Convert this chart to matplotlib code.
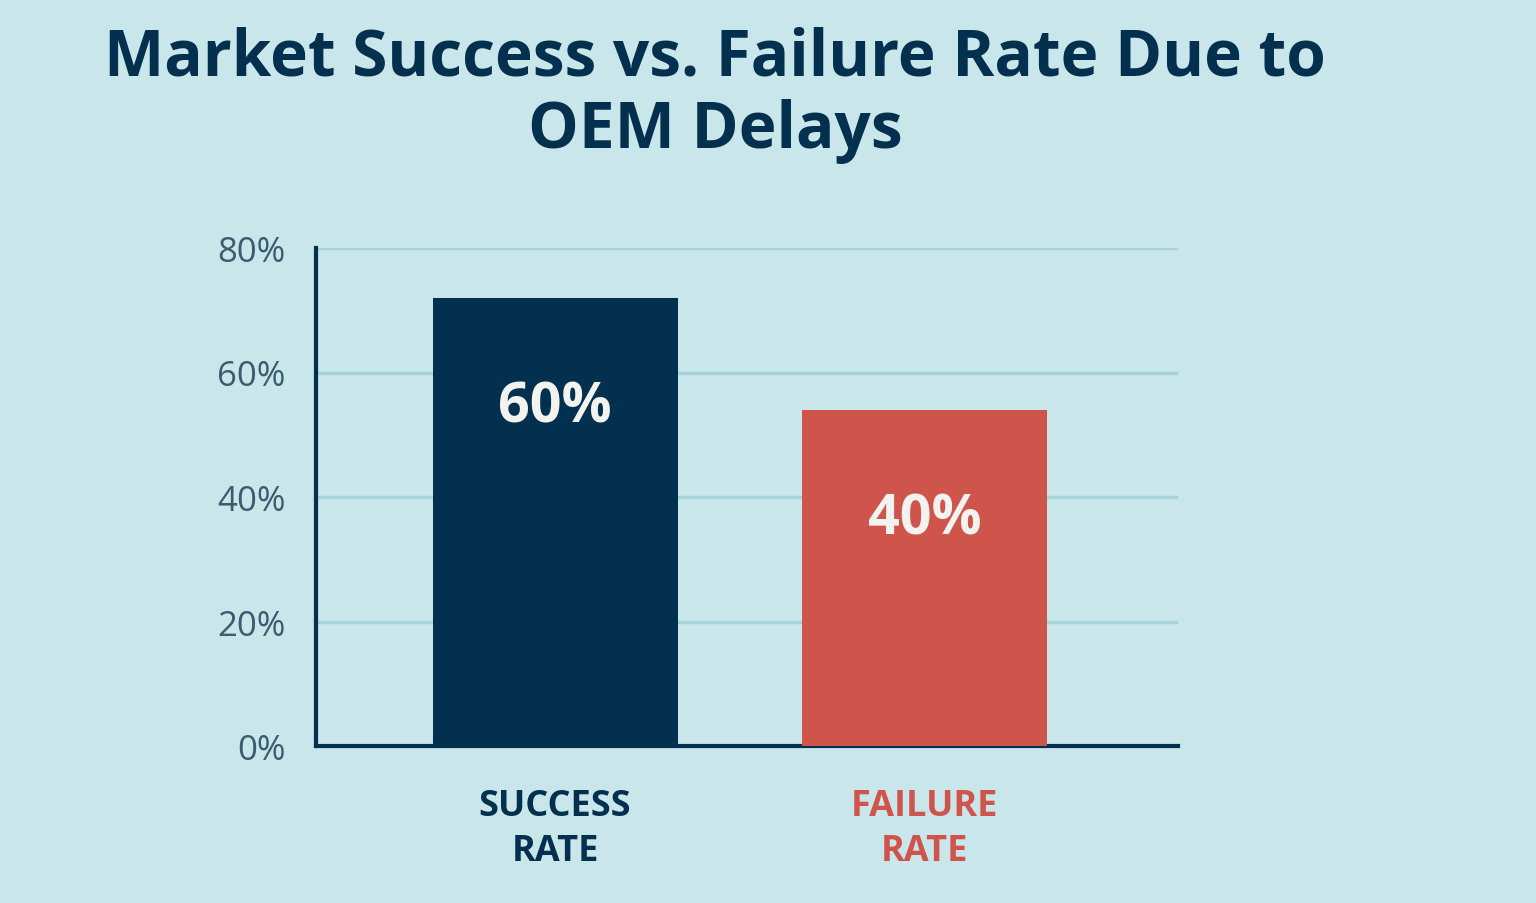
import matplotlib
matplotlib.use('Agg')
import matplotlib.pyplot as plt

categories = ['SUCCESS\nRATE', 'FAILURE\nRATE']
bar_heights = [72, 54]          # drawn heights
value_labels = ['60%', '40%']   # labels printed on the bars
label_y = [54.5, 36.5]
yticks = [0, 20, 40, 60, 80]

BG = '#c9e6ea'
NAVY = '#04304f'
RED = '#cf544b'
colors = [NAVY, RED]

plt.rcParams['font.family'] = 'Open Sans'

fig = plt.figure(figsize=(15.36, 9.04), dpi=100, facecolor=BG)
ax = fig.add_axes([316/1536, 157/904, 862/1536, 498/904], facecolor=BG)

x = list(range(len(categories)))
ax.bar(x, bar_heights, width=0.663, color=colors, zorder=3)
for xi, lab, ly in zip(x, value_labels, label_y):
    ax.text(xi, ly, lab, ha='center', va='center', color='#f2f2ee',
            fontsize=40, fontweight='bold', zorder=4)

ax.set_xlim(-0.647, 1.686)
ax.set_ylim(0, 80)
ax.set_yticks(yticks)
ax.set_yticklabels([f'{t}%' for t in yticks], fontsize=25, color='#3d5a70')
ax.yaxis.grid(True, color='#a6d2da', linewidth=2.5, zorder=0)
ax.tick_params(axis='y', length=0, pad=22)
ax.set_xticks(x)
ax.set_xticklabels(categories, fontsize=26, fontweight='bold', linespacing=1.35)
for t, c in zip(ax.get_xticklabels(), colors):
    t.set_color(c)
ax.tick_params(axis='x', length=0, pad=30)
for s in ['top', 'right']:
    ax.spines[s].set_visible(False)
for s in ['left', 'bottom']:
    ax.spines[s].set_color(NAVY)
    ax.spines[s].set_linewidth(3)

fig.text(715/1536, 1 - 95/904, 'Market Success vs. Failure Rate Due to\nOEM Delays',
         ha='center', va='center', fontsize=46, fontweight='bold', color=NAVY,
         linespacing=1.15)

fig.savefig('out.png', dpi=100, facecolor=BG)
